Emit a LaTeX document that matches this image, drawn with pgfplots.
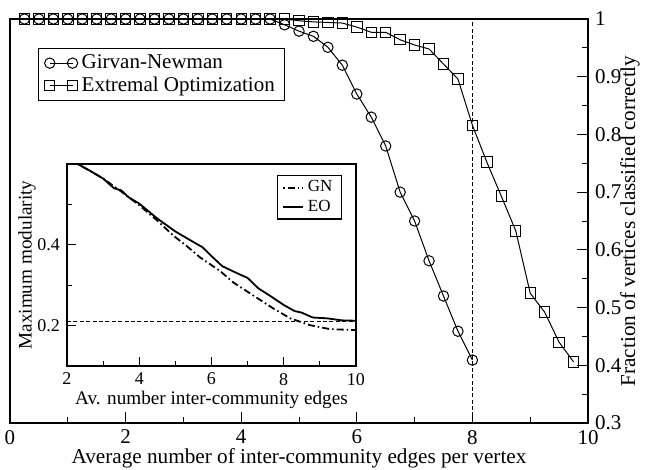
\documentclass[border=0pt]{standalone}
\usepackage{fontspec}
\setmainfont{Liberation Serif}
\usepackage{pgfplots}
\pgfplotsset{compat=1.18}
\pgfplotstableread{
x y
0.25 1.0
0.5 1.0
0.75 1.0
1.0 1.0
1.25 1.0
1.5 1.0
1.75 1.0
2.0 1.0
2.25 1.0
2.5 1.0
2.75 1.0
3.0 1.0
3.25 1.0
3.5 1.0
3.75 1.0
4.0 1.0
4.25 1.0
4.5 1.0
4.75 0.990
5.0 0.979
5.25 0.970
5.5 0.951
5.75 0.920
6.0 0.870
6.25 0.830
6.5 0.780
6.75 0.700
7.0 0.650
7.25 0.581
7.5 0.520
7.75 0.459
8.0 0.409
}\gndata
\pgfplotstableread{
x y
0.25 1.0
0.5 1.0
0.75 1.0
1.0 1.0
1.25 1.0
1.5 1.0
1.75 1.0
2.0 1.0
2.25 1.0
2.5 1.0
2.75 1.0
3.0 1.0
3.25 1.0
3.5 1.0
3.75 1.0
4.0 1.0
4.25 1.0
4.5 1.0
4.75 1.0
5.0 0.997
5.25 0.995
5.5 0.994
5.75 0.993
6.0 0.986
6.25 0.977
6.5 0.977
6.75 0.964
7.0 0.955
7.25 0.948
7.5 0.922
7.75 0.896
8.0 0.816
8.25 0.752
8.5 0.693
8.75 0.633
9.0 0.525
9.25 0.492
9.5 0.440
9.75 0.406
}\eodata
\pgfplotstableread{
x y
2.3 0.600
3.0 0.564
3.5 0.532
4.0 0.498
4.5 0.460
4.94 0.423
5.3 0.398
5.68 0.369
6.24 0.335
6.6 0.307
7.15 0.275
7.7 0.243
8.18 0.218
8.73 0.201
9.29 0.191
10 0.189
}\gnmod
\pgfplotstableread{
x y
2.3 0.600
2.7 0.580
3.0 0.564
3.3 0.540
3.5 0.535
3.7 0.518
4.0 0.502
4.5 0.465
5.0 0.433
5.4 0.412
5.75 0.394
6.0 0.372
6.3 0.347
6.7 0.330
7.0 0.318
7.3 0.292
7.6 0.275
8.0 0.251
8.3 0.236
8.5 0.232
8.8 0.220
9.2 0.218
9.6 0.213
10 0.212
}\eomod
\begin{document}
\begin{tikzpicture}
\begin{axis}[
 scale only axis, width=289pt, height=202pt,
 at={(0pt,0pt)}, anchor=south west,
 xmin=0, xmax=10, ymin=0.3, ymax=1,
 xtick={0,2,4,6,8,10}, xticklabels={0,2,4,6,8,10},
 minor xtick={1,3,5,7,9},
 ytick={0.3,0.4,0.5,0.6,0.7,0.8,0.9,1},
 yticklabels={0.3,0.4,0.5,0.6,0.7,0.8,0.9,1},
 minor ytick={0.35,0.45,0.55,0.65,0.75,0.85,0.95},
 xtick pos=bottom, ytick pos=right, yticklabel pos=right,
 tick align=inside,
 major tick length=5.5pt, minor tick length=3pt,
 tick style={black, line width=0.5pt},
 axis line style={line width=0.6pt},
 /pgf/number format/assume math mode=true,
 tick label style={font=\fontsize{10.5}{12}\selectfont},
 label style={font=\fontsize{10.6}{12}\selectfont},
 xlabel={Average number of inter-community edges per vertex},
 ylabel={Fraction of vertices classified correctly},
 xlabel style={at={(axis description cs:0.5,0)}, anchor=center, yshift=-17.5pt},
 ylabel style={at={(axis description cs:1,0.5)}, anchor=center, rotate=0, yshift=-21pt},
 legend style={at={(axis description cs:0.0484,0.928)}, anchor=north west,
   draw=black, line width=0.6pt, font=\fontsize{10.5}{11}\selectfont,
   inner xsep=3pt, inner ysep=1pt, row sep=-1.5pt},
 legend cell align=left,
 legend image code/.code={\draw[#1] plot coordinates {(0cm,0cm) (0.4cm,0cm)};},
]
\addplot[black, line width=0.5pt, mark=o, mark size=2.6pt, mark options={line width=0.5pt, solid}] table {\gndata};
\addlegendentry{Girvan-Newman}
\addplot[black, line width=0.5pt, mark=square, mark size=2.6pt, mark options={line width=0.5pt, solid}] table {\eodata};
\addlegendentry{Extremal Optimization}
\addplot[black, line width=0.5pt, dash pattern=on 2pt off 1.2pt, forget plot] coordinates {(8,0.3) (8,1)};
\end{axis}
\begin{axis}[
 scale only axis, width=144.5pt, height=101pt,
 at={(28.5pt,28.5pt)}, anchor=south west,
 axis background/.style={fill=white},
 xmin=2, xmax=10, ymin=0.1, ymax=0.6,
 xtick={2,4,6,8,10}, xticklabels={2,4,6,8,10},
 minor xtick={3,5,7,9},
 ytick={0.2,0.4}, yticklabels={0.2,0.4},
 minor ytick={0.3,0.5},
 xtick pos=bottom, ytick pos=left,
 tick align=inside,
 major tick length=4.5pt, minor tick length=2.5pt,
 tick style={black, line width=0.5pt},
 axis line style={line width=0.6pt},
 /pgf/number format/assume math mode=true,
 tick label style={font=\fontsize{9}{10}\selectfont},
 label style={font=\fontsize{9.6}{11}\selectfont},
 xlabel={Av. number inter-community edges},
 ylabel={Maximum modularity},
 xlabel style={at={(axis description cs:0.5,0)}, anchor=center, yshift=-17pt},
 ylabel style={at={(axis description cs:0,0.5)}, anchor=center, yshift=20pt},
 legend style={at={(axis description cs:0.952,0.946)}, anchor=north east,
   draw=black, line width=0.6pt, font=\fontsize{8.5}{9}\selectfont,
   inner xsep=2.5pt, inner ysep=0.5pt, row sep=-1.5pt},
 legend cell align=left,
 legend image code/.code={\draw[#1] (0cm,0cm)--(0.35cm,0cm);},
]
\addplot[black, line width=0.9pt, dash pattern=on 0.8pt off 1.5pt on 3.5pt off 1.5pt] table {\gnmod};
\addlegendentry{GN}
\addplot[black, line width=0.9pt] table {\eomod};
\addlegendentry{EO}
\addplot[black, line width=0.5pt, dash pattern=on 2pt off 1.2pt, forget plot] coordinates {(2,0.211) (10,0.211)};
\end{axis}
\pgfresetboundingbox
\path[use as bounding box] (-5pt,-23.5pt) rectangle (318.5pt,211.5pt);
\end{tikzpicture}
\end{document}
